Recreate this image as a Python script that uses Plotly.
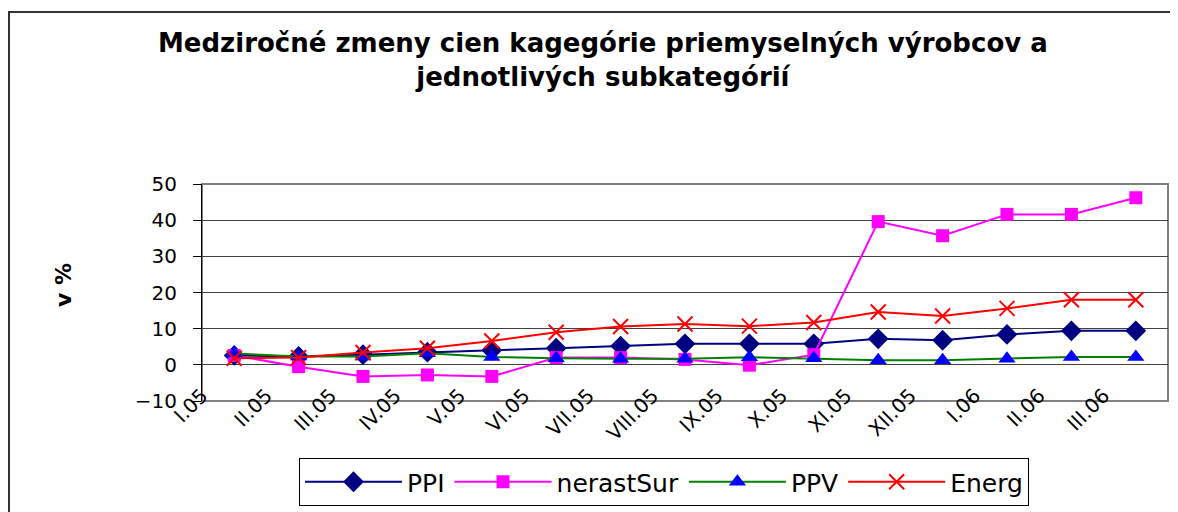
import plotly.graph_objects as go

months = ["I.05", "II.05", "III.05", "IV.05", "V.05", "VI.05", "VII.05", "VIII.05",
          "IX.05", "X.05", "XI.05", "XII.05", "I.06", "II.06", "III.06"]
ppi = [2.6, 2.3, 2.8, 3.5, 4.0, 4.6, 5.2, 5.8, 5.8, 5.8, 7.2, 6.8, 8.4, 9.4, 9.4]
nerast_sur = [2.6, -0.5, -3.2, -2.8, -3.2, 2.0, 2.0, 1.5, -0.1, 2.8, 39.6, 35.7, 41.6, 41.6, 46.2]
ppv = [3.1, 2.3, 2.3, 3.2, 2.2, 1.8, 1.7, 1.7, 2.1, 1.8, 1.3, 1.3, 1.7, 2.2, 2.2]
energ = [1.8, 2.0, 3.4, 4.6, 6.6, 9.0, 10.6, 11.3, 10.7, 11.7, 14.6, 13.5, 15.6, 18.0, 18.0]

title_text = "Medziročné zmeny cien kagegórie priemyselných výrobcov a<br>jednotlivých subkategórií"
y_title = "v %"

FONT = "DejaVu Sans"
x = list(range(len(months)))
bounds = [i - 0.5 for i in range(len(months) + 1)]

fig = go.Figure()
fig.add_trace(go.Scatter(x=x, y=ppi, name="PPI", mode="lines+markers",
                         line=dict(color="#000080", width=2),
                         marker=dict(symbol="diamond", size=16, color="#000080")))
fig.add_trace(go.Scatter(x=x, y=nerast_sur, name="nerastSur", mode="lines+markers",
                         line=dict(color="#FF00FF", width=2),
                         marker=dict(symbol="square", size=13, color="#FF00FF")))
fig.add_trace(go.Scatter(x=x, y=ppv, name="PPV", mode="lines+markers",
                         line=dict(color="#008000", width=2),
                         marker=dict(symbol="triangle-up", size=15, color="#0000FF")))
fig.add_trace(go.Scatter(x=x, y=energ, name="Energ", mode="lines+markers",
                         line=dict(color="#FF0000", width=2),
                         marker=dict(symbol="x-thin", size=15, color="#FF0000",
                                     line=dict(color="#FF0000", width=2))))

# figure is drawn 8px inside the page (body margin), so page px - 8 = figure px
W, H = 1170, 504
L, R, T, B = 194, 10, 176, 111
pw, ph = W - L - R, H - T - B

def px_x(p):
    return (p - L) / pw

def px_y(p):
    return (H - B - p) / ph

fig.update_layout(
    width=W, height=H,
    margin=dict(l=L, r=R, t=T, b=B, autoexpand=False),
    paper_bgcolor="white", plot_bgcolor="white",
    font=dict(family=FONT, color="black"),
    showlegend=True,
    legend=dict(orientation="h", xref="container", yref="container",
                x=291 / W, y=1 - 450 / H, xanchor="left", yanchor="top",
                bordercolor="black", borderwidth=1, font=dict(size=25, family=FONT),
                itemwidth=97),
    xaxis=dict(range=[-0.5, len(months) - 0.5], tickvals=bounds[:-1], ticktext=months,
               tickangle=-45, ticks="", showgrid=False, zeroline=False, showline=False,
               automargin=False, ticklabelstandoff=-22,
               tickfont=dict(size=20, family=FONT)),
    xaxis2=dict(range=[-0.5, len(months) - 0.5], overlaying="x", anchor="free",
                position=10 / 60, side="bottom", tickvals=bounds, ticks="outside",
                ticklen=7, tickcolor="black", showticklabels=False, showgrid=False,
                zeroline=False, showline=True, linecolor="black", linewidth=1,
                automargin=False),
    yaxis=dict(range=[-10, 50], dtick=10, showgrid=True, gridcolor="#404040", gridwidth=1,
               zeroline=False, showline=True, linecolor="black", linewidth=1,
               ticks="outside", ticklen=8, tickcolor="black", automargin=False,
               ticklabelstandoff=12, tickfont=dict(size=20, family=FONT)),
    shapes=[
        dict(type="rect", xref="paper", yref="paper", x0=0, x1=1, y0=0, y1=1,
             line=dict(color="#808080", width=2), layer="below"),
        dict(type="rect", xref="paper", yref="paper", x0=px_x(1), x1=px_x(1200),
             y0=px_y(530), y1=px_y(4), line=dict(color="#333333", width=2)),
    ],
    annotations=[
        dict(text="<b>" + title_text + "</b>", xref="paper", yref="paper",
             x=px_x(595), y=px_y(18), xanchor="center", yanchor="top",
             showarrow=False, font=dict(size=26, family=FONT)),
        dict(text="<b>" + y_title + "</b>", xref="paper", yref="paper",
             x=px_x(55), y=px_y(277), xanchor="center", yanchor="middle",
             textangle=-90, showarrow=False, font=dict(size=22, family=FONT)),
    ],
)

fig.write_html("out.html")
